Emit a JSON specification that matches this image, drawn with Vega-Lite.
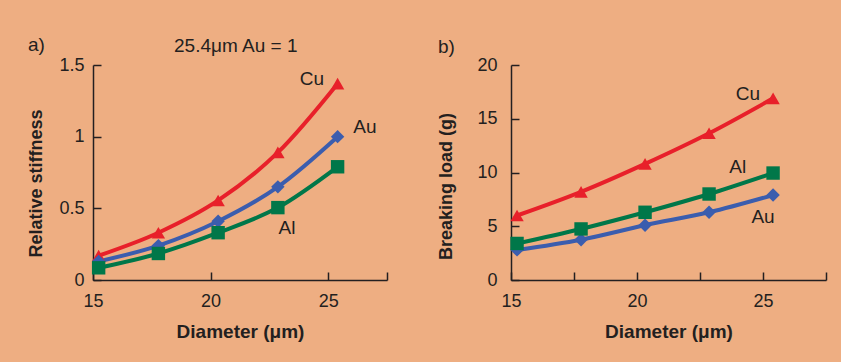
{
  "$schema": "https://vega.github.io/schema/vega-lite/v6.json",
  "background": "#EEAE82",
  "padding": {"left": 27, "top": 36, "right": 120, "bottom": 120},
  "spacing": 49,
  "config": {
    "view": {"stroke": null},
    "font": "Liberation Sans",
    "axis": {
      "grid": false,
      "domainColor": "#231F20",
      "domainWidth": 1.5,
      "tickColor": "#231F20",
      "tickWidth": 1.5,
      "tickSize": -8,
      "labelFont": "Liberation Sans",
      "labelFontSize": 18,
      "labelColor": "#231F20",
      "labelFlush": false,
      "labelOverlap": false,
      "titleFont": "Liberation Sans",
      "titleFontSize": 18,
      "titleFontWeight": "bold",
      "titleColor": "#231F20"
    },
    "title": {"font": "Liberation Sans", "fontSize": 19, "fontWeight": "normal", "color": "#231F20", "anchor": "start", "frame": "bounds", "offset": 0}
  },
  "datasets": {
    "stiffness": [
      {"metal": "Cu", "d": 15.24, "v": 0.17}, {"metal": "Cu", "d": 17.78, "v": 0.33}, {"metal": "Cu", "d": 20.32, "v": 0.555}, {"metal": "Cu", "d": 22.86, "v": 0.89}, {"metal": "Cu", "d": 25.4, "v": 1.37},
      {"metal": "Au", "d": 15.24, "v": 0.13}, {"metal": "Au", "d": 17.78, "v": 0.24}, {"metal": "Au", "d": 20.32, "v": 0.41}, {"metal": "Au", "d": 22.86, "v": 0.65}, {"metal": "Au", "d": 25.4, "v": 1.0},
      {"metal": "Al", "d": 15.24, "v": 0.085}, {"metal": "Al", "d": 17.78, "v": 0.185}, {"metal": "Al", "d": 20.32, "v": 0.33}, {"metal": "Al", "d": 22.86, "v": 0.505}, {"metal": "Al", "d": 25.4, "v": 0.79}
    ],
    "load": [
      {"metal": "Cu", "d": 15.24, "v": 6.0}, {"metal": "Cu", "d": 17.78, "v": 8.2}, {"metal": "Cu", "d": 20.32, "v": 10.8}, {"metal": "Cu", "d": 22.86, "v": 13.65}, {"metal": "Cu", "d": 25.4, "v": 16.9},
      {"metal": "Au", "d": 15.24, "v": 2.8}, {"metal": "Au", "d": 17.78, "v": 3.75}, {"metal": "Au", "d": 20.32, "v": 5.1}, {"metal": "Au", "d": 22.86, "v": 6.3}, {"metal": "Au", "d": 25.4, "v": 7.9},
      {"metal": "Al", "d": 15.24, "v": 3.4}, {"metal": "Al", "d": 17.78, "v": 4.75}, {"metal": "Al", "d": 20.32, "v": 6.3}, {"metal": "Al", "d": 22.86, "v": 8.0}, {"metal": "Al", "d": 25.4, "v": 9.95}
    ],
    "labels_a": [
      {"t": "Cu", "d": 24.31, "v": 1.40}, {"t": "Au", "d": 26.56, "v": 1.07}, {"t": "Al", "d": 23.25, "v": 0.36},
      {"t": "25.4μm Au = 1", "d": 21.07, "v": 1.63}
    ],
    "labels_b": [
      {"t": "Cu", "d": 24.4, "v": 17.3}, {"t": "Al", "d": 24.0, "v": 10.5}, {"t": "Au", "d": 25.0, "v": 5.9}
    ]
  },
  "hconcat": [
    {
      "width": 294,
      "height": 215,
      "title": {"text": "a)", "dy": 22},
      "layer": [
        {
          "data": {"name": "stiffness"},
          "mark": {"type": "line", "strokeWidth": 4, "interpolate": "monotone"},
          "encoding": {
            "x": {"field": "d", "type": "quantitative", "scale": {"domain": [15, 27.5], "nice": false, "zero": false},
              "axis": {"title": "Diameter (μm)", "titleFontSize": 19, "values": [15, 20, 25, 27.5], "labelExpr": "datum.value == 27.5 ? '' : datum.label", "labelPadding": 20, "titlePadding": 12}},
            "y": {"field": "v", "type": "quantitative", "scale": {"domain": [0, 1.5], "nice": false},
              "axis": {"title": "Relative stiffness", "values": [0, 0.5, 1, 1.5], "format": "~g", "labelPadding": 17, "titlePadding": 13, "titleY": 118}},
            "color": {"field": "metal", "type": "nominal", "scale": {"domain": ["Cu", "Au", "Al"], "range": ["#E8202A", "#3B5DAE", "#007749"]}, "legend": null},
            "detail": {"field": "metal"}
          }
        },
        {
          "data": {"name": "stiffness"},
          "mark": {"type": "point", "filled": true, "opacity": 1, "size": 180},
          "encoding": {
            "x": {"field": "d", "type": "quantitative"},
            "y": {"field": "v", "type": "quantitative"},
            "color": {"field": "metal", "type": "nominal", "legend": null},
            "shape": {"field": "metal", "type": "nominal", "scale": {"domain": ["Cu", "Au", "Al"], "range": ["triangle-up", "diamond", "square"]}, "legend": null}
          }
        },
        {
          "data": {"name": "labels_a"},
          "mark": {"type": "text", "fontSize": 19, "color": "#231F20", "font": "Liberation Sans"},
          "encoding": {
            "x": {"field": "d", "type": "quantitative"},
            "y": {"field": "v", "type": "quantitative"},
            "text": {"field": "t"}
          }
        }
      ]
    },
    {
      "width": 315,
      "height": 215,
      "title": {"text": "b)", "dy": 5},
      "layer": [
        {
          "data": {"name": "load"},
          "mark": {"type": "line", "strokeWidth": 4, "interpolate": "monotone"},
          "encoding": {
            "x": {"field": "d", "type": "quantitative", "scale": {"domain": [15, 27.5], "nice": false, "zero": false},
              "axis": {"title": "Diameter (μm)", "titleFontSize": 19, "values": [15, 17.5, 20, 22.5, 25, 27.5], "labelExpr": "datum.value % 5 == 0 ? datum.label : ''", "labelPadding": 20, "titlePadding": 12}},
            "y": {"field": "v", "type": "quantitative", "scale": {"domain": [0, 20], "nice": false},
              "axis": {"title": "Breaking load (g)", "values": [0, 5, 10, 15, 20], "labelPadding": 22, "titlePadding": 21, "titleY": 121}},
            "color": {"field": "metal", "type": "nominal", "scale": {"domain": ["Cu", "Au", "Al"], "range": ["#E8202A", "#3B5DAE", "#007749"]}, "legend": null},
            "detail": {"field": "metal"}
          }
        },
        {
          "data": {"name": "load"},
          "mark": {"type": "point", "filled": true, "opacity": 1, "size": 180},
          "encoding": {
            "x": {"field": "d", "type": "quantitative"},
            "y": {"field": "v", "type": "quantitative"},
            "color": {"field": "metal", "type": "nominal", "legend": null},
            "shape": {"field": "metal", "type": "nominal", "scale": {"domain": ["Cu", "Au", "Al"], "range": ["triangle-up", "diamond", "square"]}, "legend": null}
          }
        },
        {
          "data": {"name": "labels_b"},
          "mark": {"type": "text", "fontSize": 19, "color": "#231F20", "font": "Liberation Sans"},
          "encoding": {
            "x": {"field": "d", "type": "quantitative"},
            "y": {"field": "v", "type": "quantitative"},
            "text": {"field": "t"}
          }
        }
      ]
    }
  ]
}
